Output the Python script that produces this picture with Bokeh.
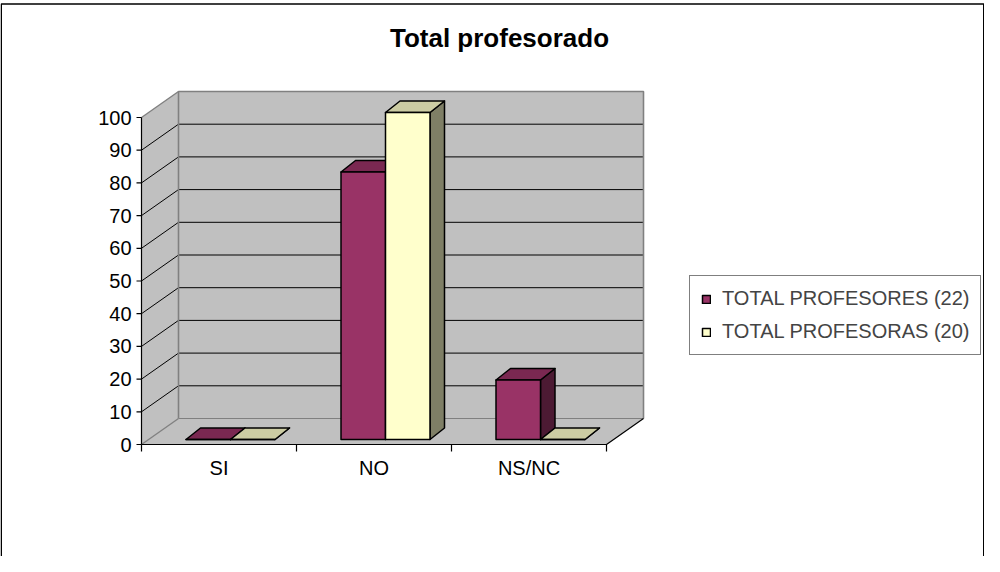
from bokeh.plotting import figure
from bokeh.models import Range1d, Legend, LegendItem
from bokeh.core.properties import value
from bokeh.embed import file_html
from bokeh.resources import INLINE

# ---------------- data ----------------
categories = ["SI", "NO", "NS/NC"]
profesores = [0, 81.8, 18.2]
profesoras = [0, 100, 0]
series_labels = ["TOTAL PROFESORES (22)", "TOTAL PROFESORAS (20)"]
y_ticks = [0, 10, 20, 30, 40, 50, 60, 70, 80, 90, 100]
title_text = "Total profesorado"

# ---------------- layout (pixels) ----------------
W, H = 984, 556
X0, Y0 = 141.0, 444.0          # canvas px of the front origin (category 0, value 0)
CAT_PX, VAL_PX = 155.0, 3.27   # px per category, px per value unit
FONT = value("Liberation Sans")


def dx(px):
    return px / CAT_PX


def dy(px):
    return px / VAL_PX


def cx(canvas_x):
    return (canvas_x - X0) / CAT_PX


def cy(canvas_y):
    return (Y0 - canvas_y) / VAL_PX


p = figure(width=W, height=H,
           x_range=Range1d(cx(0), cx(W)), y_range=Range1d(cy(H), cy(0)),
           x_axis_type=None, y_axis_type=None,
           toolbar_location=None, output_backend="svg", min_border=0)
p.outline_line_color = None
p.background_fill_color = "white"
p.border_fill_color = "white"

n = len(categories)
ymax = y_ticks[-1]
FDX, FDY = dx(37), dy(26)          # depth of the floor
WALL = "#C0C0C0"
EDGE = "#808080"

# walls and floor
p.patch([FDX, n + FDX, n + FDX, FDX], [FDY, FDY, ymax + FDY, ymax + FDY],
        fill_color=WALL, line_color=None)
p.patch([0, FDX, FDX, 0], [0, FDY, ymax + FDY, ymax], fill_color=WALL, line_color=None)
p.patch([0, n, n + FDX, FDX], [0, 0, FDY, FDY], fill_color=WALL, line_color=None)

# gridlines on back wall and side wall
inner = y_ticks[1:-1]
p.multi_line([[FDX, n + FDX] for v in inner], [[v + FDY, v + FDY] for v in inner],
             line_color="black", line_width=1)
p.multi_line([[0, FDX] for v in inner], [[v, v + FDY] for v in inner],
             line_color="black", line_width=1)

# gray wall edges
p.line([FDX, FDX, n + FDX, n + FDX], [FDY, ymax + FDY, ymax + FDY, FDY],
       line_color=EDGE, line_width=1.6)
p.line([FDX, n + FDX], [FDY, FDY], line_color=EDGE, line_width=1.2)
p.line([0, FDX], [ymax, ymax + FDY], line_color=EDGE, line_width=1.4)
p.line([0, FDX], [0, FDY], line_color=EDGE, line_width=1.4)

# front axes and floor edges
p.line([0, 0], [0, ymax], line_color="black", line_width=1.2)
p.line([0, n, n + FDX], [0, 0, FDY], line_color="black", line_width=1.2)
p.multi_line([[-dx(5), 0] for v in y_ticks], [[v, v] for v in y_ticks],
             line_color="black", line_width=1.2)
p.multi_line([[i, i] for i in range(n + 1)], [[0, -dy(7)] for i in range(n + 1)],
             line_color="black", line_width=1.2)

# 3D bars
BW = dx(44.5)
PAIR_OFF = dx(11.5)
B0 = dy(5)
BDX, BDY = dx(14.5), dy(11.5)
series = [profesores, profesoras]
colors = [("#993366", "#7A2851", "#4C1A33"), ("#FFFFCC", "#CCCCA3", "#7F7F66")]
front_renderers = []
for j, vals in enumerate(series):
    fx, fy, tx, ty, sx, sy = [], [], [], [], [], []
    for i, v in enumerate(vals):
        c = i + 0.5 + PAIR_OFF
        L = c - BW + j * BW
        R = L + BW
        B = B0
        T = B0 + v
        fx.append([L, R, R, L]); fy.append([B, B, T, T])
        tx.append([L, R, R + BDX, L + BDX]); ty.append([T, T, T + BDY, T + BDY])
        sx.append([R, R + BDX, R + BDX, R]); sy.append([B, B + BDY, T + BDY, T])
    front, top, side = colors[j]
    p.patches(sx, sy, fill_color=side, line_color="black", line_width=1.5, line_join="round")
    p.patches(tx, ty, fill_color=top, line_color="black", line_width=1.5, line_join="round")
    r = p.patches(fx, fy, fill_color=front, line_color="black", line_width=1.5, line_join="round")
    front_renderers.append(r)

# tick labels
p.text(x=[-dx(10)] * len(y_ticks), y=y_ticks, text=[str(v) for v in y_ticks],
       text_align="right", text_baseline="middle", text_font=FONT,
       text_font_size="20px", text_color="black")
p.text(x=[i + 0.5 for i in range(n)], y=[-dy(23)] * n, text=categories,
       text_align="center", text_baseline="middle", text_font=FONT,
       text_font_size="20px", text_color="black")

# title
p.text(x=[cx(499)], y=[cy(37)], text=[title_text], text_align="center",
       text_baseline="alphabetic", text_font=FONT, text_font_size="26px",
       text_font_style="bold", text_color="black")

# outer chart border (open at the bottom, as in the reference)
p.line([cx(0.75), cx(0.75), cx(983.25), cx(983.25)], [cy(H), cy(3.5), cy(3.5), cy(H)],
       line_color="black", line_width=1.5)

legend = Legend(items=[LegendItem(label=series_labels[k], renderers=[front_renderers[k]])
                       for k in range(2)],
                location=(689, 201))
legend.border_line_color = "black"
legend.border_line_width = 1
legend.background_fill_color = "white"
legend.label_text_font = "Liberation Sans"
legend.label_text_font_size = "20px"
legend.glyph_width = 10
legend.glyph_height = 10
legend.label_standoff = 11
legend.padding = 11
legend.spacing = 10
legend.margin = 0
p.add_layout(legend)

open("out.html", "w").write(file_html(p, INLINE))
